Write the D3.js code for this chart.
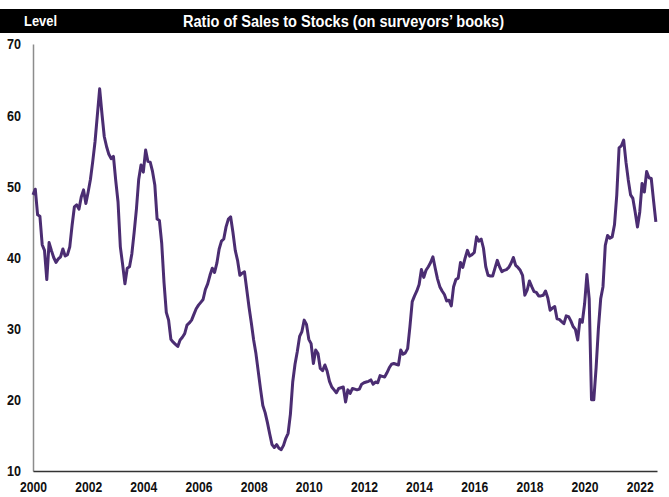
<!DOCTYPE html>
<html>
<head>
<meta charset="utf-8">
<script src="https://cdn.jsdelivr.net/npm/d3@7"></script>
<style>
  html, body { margin: 0; padding: 0; background: #fff; }
  text { font-family: "Liberation Sans Narrow", "Arial Narrow", "Liberation Sans", Arial, sans-serif; font-weight: bold; }
</style>
</head>
<body>
<svg id="svg"></svg>
<script>
var W = 669, H = 497;
var Marge = {top: 44, right: 12, bottom: 26, left: 33};

var title = "Ratio of Sales to Stocks (on surveyors\u2019 books)";
var unitLabel = "Level";
var startYear = 2000, startMonth = 0;   // Jan 2000, monthly
var yTicks = [10, 20, 30, 40, 50, 60, 70];
var xTicks = [2000, 2002, 2004, 2006, 2008, 2010, 2012, 2014, 2016, 2018, 2020, 2022];

// monthly values, one row per year
var v2000 = [48.8, 49.6, 46.0, 45.8, 41.8, 41.0, 36.9, 42.1, 41.0, 40.0, 39.3, 39.8];
var v2001 = [40.1, 41.2, 40.2, 40.4, 41.5, 44.5, 47.1, 47.4, 46.8, 48.5, 49.5, 47.6];
var v2002 = [49.2, 51.0, 53.5, 56.3, 60.0, 63.7, 60.2, 57.0, 55.6, 54.5, 53.9, 54.2];
var v2003 = [50.8, 47.8, 41.5, 39.0, 36.3, 38.5, 38.7, 40.5, 43.5, 46.8, 51.0, 53.0];
var v2004 = [52.0, 55.1, 53.5, 53.4, 52.1, 50.2, 45.4, 45.2, 42.0, 36.5, 32.3, 31.2];
var v2005 = [28.5, 28.1, 27.8, 27.5, 28.4, 28.8, 29.3, 30.5, 30.8, 31.2, 32.0, 32.8];
var v2006 = [33.3, 33.7, 34.1, 35.5, 36.3, 37.5, 38.5, 37.9, 39.2, 41.2, 42.3, 42.6];
var v2007 = [44.3, 45.4, 45.7, 43.5, 41.0, 39.6, 37.5, 37.8, 38.0, 35.5, 33.0, 30.8];
var v2008 = [28.4, 26.5, 24.0, 21.5, 19.2, 18.2, 16.8, 15.2, 13.7, 13.3, 13.7, 13.2];
var v2009 = [13.0, 13.6, 14.6, 15.3, 18.0, 22.5, 25.0, 26.8, 28.9, 29.6, 31.2, 30.6];
var v2010 = [28.5, 27.9, 25.1, 27.0, 26.5, 24.4, 24.1, 24.9, 24.0, 22.6, 21.8, 21.4];
var v2011 = [21.0, 21.6, 21.7, 21.8, 19.7, 21.4, 20.9, 21.6, 21.5, 21.4, 21.5, 22.2];
var v2012 = [22.4, 22.5, 22.6, 22.8, 22.2, 22.5, 22.4, 23.4, 23.3, 23.2, 23.8, 24.5];
var v2013 = [25.0, 25.1, 25.0, 24.9, 27.0, 26.4, 26.6, 27.2, 30.3, 33.8, 34.6, 35.3];
var v2014 = [36.2, 38.3, 37.2, 38.2, 38.7, 39.3, 40.1, 38.5, 37.0, 35.9, 35.3, 34.8];
var v2015 = [33.9, 34.0, 33.2, 35.9, 36.9, 37.1, 39.3, 38.6, 39.9, 41.0, 40.2, 40.4];
var v2016 = [40.7, 42.9, 42.3, 42.6, 41.3, 38.7, 37.5, 37.4, 37.4, 38.5, 39.6, 38.7];
var v2017 = [38.0, 38.2, 38.3, 38.6, 39.2, 40.0, 38.9, 38.6, 38.2, 37.5, 34.7, 35.4];
var v2018 = [36.7, 35.9, 35.2, 35.1, 34.6, 34.6, 34.7, 35.3, 34.3, 32.6, 32.9, 33.1];
var v2019 = [31.4, 31.3, 31.0, 30.7, 31.8, 31.7, 31.1, 30.3, 29.9, 28.4, 31.3, 30.9];
var v2020 = [33.5, 37.6, 34.2, 20.0, 20.0, 24.5, 30.0, 34.2, 35.9, 41.7, 43.1, 42.7];
var v2021 = [42.9, 44.6, 48.8, 55.4, 55.7, 56.5, 53.4, 50.9, 48.8, 48.3, 46.4, 44.3];
var v2022 = [46.4, 50.4, 49.2, 52.1, 51.2, 51.1, 48.0, 45.0];

var values = [].concat(v2000, v2001, v2002, v2003, v2004, v2005, v2006, v2007, v2008, v2009, v2010,
  v2011, v2012, v2013, v2014, v2015, v2016, v2017, v2018, v2019, v2020, v2021, v2022);

var data = values.map(function(v, i) {
  return {t: startYear + (startMonth + i) / 12, v: v};
});

var svg = d3.select("#svg")
  .attr("width", W)
  .attr("height", H);

// title bar
svg.append("rect")
  .attr("x", 0).attr("y", 9)
  .attr("width", W).attr("height", 24)
  .attr("fill", "#000");

svg.append("text")
  .attr("x", 24).attr("y", 26)
  .attr("fill", "#fff")
  .attr("font-size", 15)
  .attr("textLength", 33)
  .attr("lengthAdjust", "spacingAndGlyphs")
  .text(unitLabel);

svg.append("text")
  .attr("x", 183).attr("y", 27)
  .attr("fill", "#fff")
  .attr("font-size", 16)
  .attr("textLength", 321)
  .attr("lengthAdjust", "spacingAndGlyphs")
  .text(title);

var x_scale = d3.scaleLinear()
  .domain([2000, 2022 + 7.5 / 12])
  .range([Marge.left, W - Marge.right]);

var y_scale = d3.scaleLinear()
  .domain([10, 70])
  .range([H - Marge.bottom, Marge.top]);

// axes
var yAxis = svg.append("g")
  .attr("transform", "translate(" + Marge.left + ",0)")
  .call(d3.axisLeft(y_scale).tickValues(yTicks).tickSize(0).tickPadding(12).tickFormat(d3.format("d")));
yAxis.select(".domain").attr("stroke", "#8c8c8c").attr("stroke-width", 1.5);
yAxis.selectAll("text")
  .attr("font-size", 14).attr("fill", "#111").attr("dy", "0.35em")
  .attr("textLength", 14).attr("lengthAdjust", "spacingAndGlyphs");

var xAxis = svg.append("g")
  .attr("transform", "translate(0," + (H - Marge.bottom) + ")")
  .call(d3.axisBottom(x_scale).tickValues(xTicks).tickSize(0).tickPadding(11).tickFormat(d3.format("d")));
xAxis.select(".domain").attr("stroke", "#333").attr("stroke-width", 1.5);
xAxis.selectAll("text")
  .attr("font-size", 14).attr("fill", "#111")
  .attr("textLength", 27).attr("lengthAdjust", "spacingAndGlyphs");

var lineFunction = d3.line()
  .x(function(d) { return x_scale(d.t); })
  .y(function(d) { return y_scale(d.v); });

svg.append("path")
  .datum(data)
  .attr("d", lineFunction)
  .attr("stroke", "#4b2d72")
  .attr("stroke-width", 3)
  .attr("stroke-linejoin", "round")
  .attr("fill", "none");
</script>
</body>
</html>
